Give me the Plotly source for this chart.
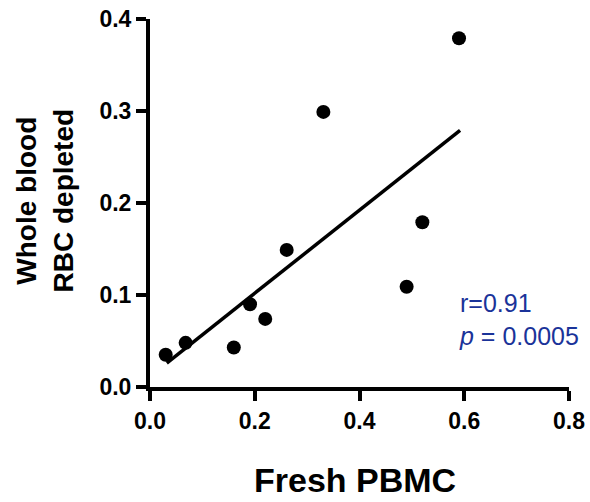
import plotly.graph_objects as go

# Data
fresh_pbmc = [0.030, 0.068, 0.160, 0.191, 0.220, 0.261, 0.331, 0.490, 0.520, 0.590]
whole_blood = [0.035, 0.048, 0.043, 0.090, 0.074, 0.149, 0.299, 0.109, 0.179, 0.379]

# Regression line endpoints
fit_x = [0.032, 0.592]
fit_y = [0.026, 0.279]

x_ticks = [0.0, 0.2, 0.4, 0.6, 0.8]
y_ticks = [0.0, 0.1, 0.2, 0.3, 0.4]
x_labels = ["0.0", "0.2", "0.4", "0.6", "0.8"]
y_labels = ["0.0", "0.1", "0.2", "0.3", "0.4"]

stat_text = "r=0.91<br><i>p</i> = 0.0005"

FONT = "Liberation Sans, Arial, Helvetica, sans-serif"

fig = go.Figure()
fig.add_trace(go.Scatter(
    x=fit_x, y=fit_y, mode="lines",
    line=dict(color="black", width=3.5),
    showlegend=False, cliponaxis=False,
))
fig.add_trace(go.Scatter(
    x=fresh_pbmc, y=whole_blood, mode="markers",
    marker=dict(color="black", size=14, line=dict(width=0)),
    showlegend=False, cliponaxis=False,
))

axis_common = dict(
    showgrid=False, zeroline=False, automargin=False,
    showline=True, linecolor="black", linewidth=4,
    ticks="outside", ticklen=10, tickwidth=3.5, tickcolor="black",
    tickfont=dict(family=FONT, size=23, color="black", weight="bold"),
)

fig.update_layout(
    width=590, height=502,
    margin=dict(l=150, r=21, t=19, b=115),
    paper_bgcolor="white", plot_bgcolor="white",
    xaxis=dict(range=[0, 0.8], tickvals=x_ticks, ticktext=x_labels, **axis_common),
    yaxis=dict(range=[0, 0.4], tickvals=y_ticks, ticktext=y_labels, **axis_common),
    annotations=[
        dict(text="Fresh PBMC", xref="paper", yref="paper", x=0.4891, y=-0.2514,
             xanchor="center", yanchor="middle", showarrow=False,
             font=dict(family=FONT, size=34, color="black", weight="bold")),
        dict(text="Whole blood<br>RBC depleted", xref="paper", yref="paper",
             x=-0.252, y=0.508, xanchor="center", yanchor="middle", textangle=-90,
             showarrow=False,
             font=dict(family=FONT, size=28, color="black", weight="bold")),
        dict(text=stat_text, xref="x", yref="y", x=0.586, y=0.073,
             xanchor="left", yanchor="middle", align="left", showarrow=False,
             font=dict(family=FONT, size=25, color="#1a3399")),
    ],
)

fig.write_html("out.html", config={"displayModeBar": False},
               post_script="document.body.style.margin='0';")
